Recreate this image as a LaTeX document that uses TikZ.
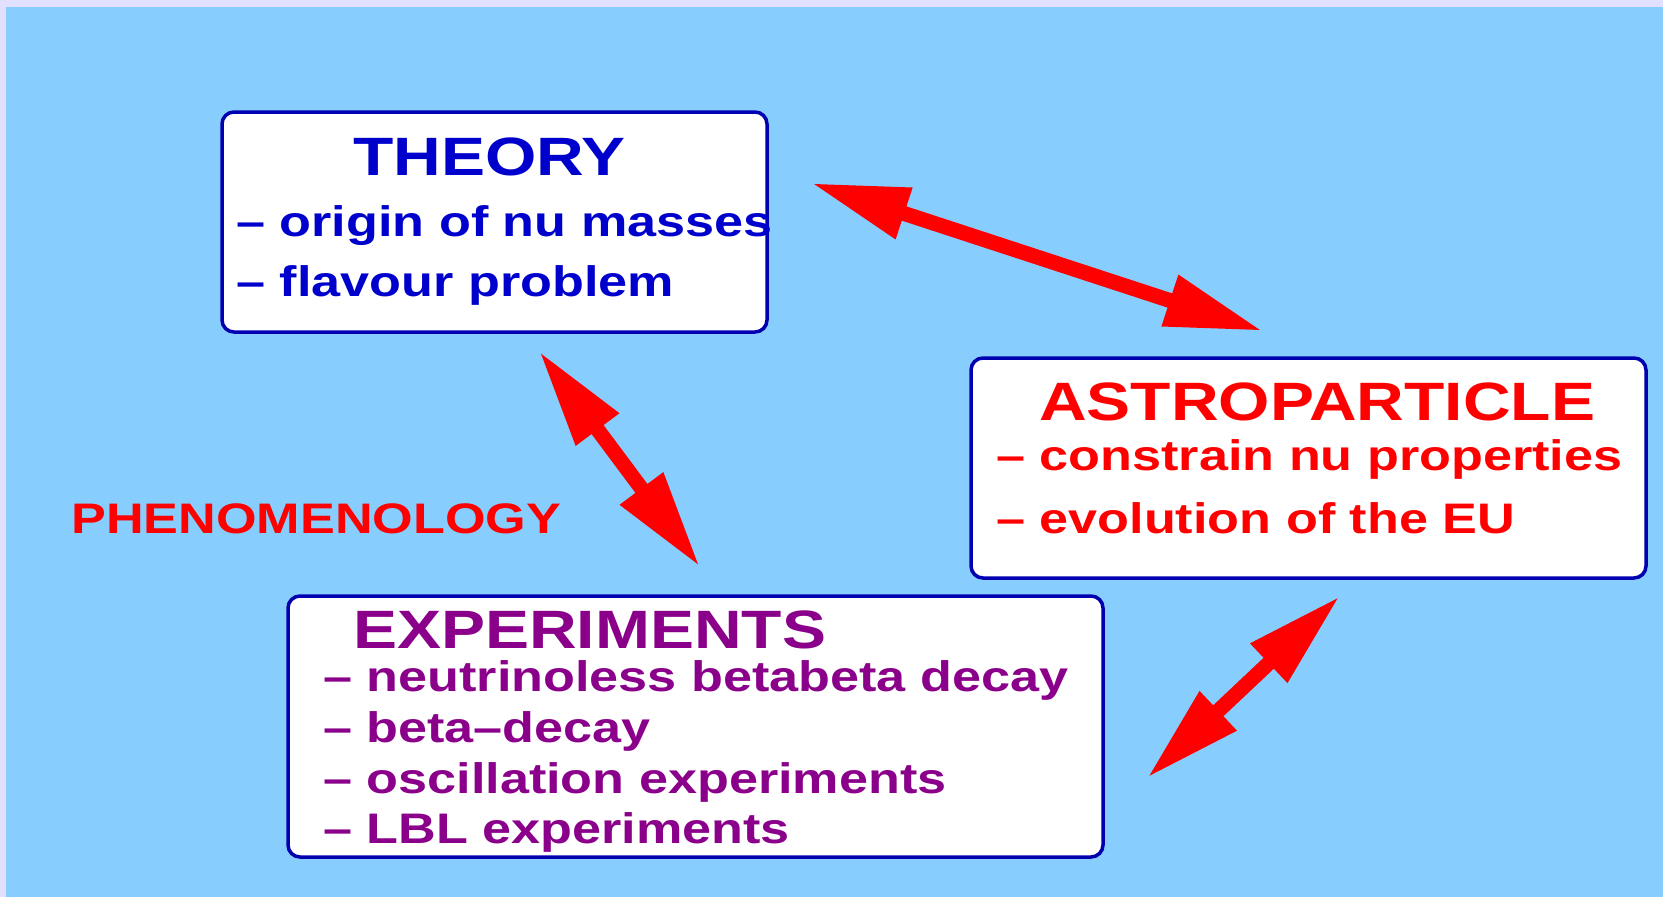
\documentclass[tikz,border=0pt]{standalone}
\usepackage{fontspec}
\setmainfont{Liberation Sans}[FakeStretch=1.222]
\usetikzlibrary{arrows.meta}

\definecolor{skyback}{RGB}{135,206,255}
\definecolor{lavframe}{RGB}{226,224,255}
\definecolor{boxblue}{RGB}{0,0,176}
\definecolor{theoblue}{RGB}{0,0,204}
\definecolor{expviolet}{RGB}{139,0,139}
\definecolor{arrowred}{RGB}{255,0,0}

\tikzset{
  topicbox/.style={draw=boxblue, line width=3.5pt, rounded corners=12pt, fill=white, inner sep=0pt},
  headline/.style={anchor=base west, inner sep=0pt, font=\bfseries\fontsize{54}{60}\selectfont},
  itemline/.style={anchor=base west, inner sep=0pt, font=\bfseries\fontsize{42.7}{50}\selectfont},
  bigarrow/.style={draw=arrowred, line width=15pt,
    {Triangle[length=98pt,width=50pt]}-{Triangle[length=98pt,width=50pt]}}
}

\begin{document}
\begin{tikzpicture}[x=1pt, y=-1pt]

        % ==========================================
        % 0. SFONDO
        % ==========================================
        \fill[lavframe] (0,0) rectangle (1663,897);
        \fill[skyback] (6,7) rectangle (1663,897);

        % ==========================================
        % 1. BLOCCO THEORY
        % ==========================================
        \node[topicbox, minimum width=545pt, minimum height=220pt] (theory) at (494.5,222) {};
        \node[headline, text=theoblue] (theoryhead) at (353,175) {THEORY};
        \node[itemline, text=theoblue] (theoryone) at (236,236) {-- origin of nu masses};
        \node[itemline, text=theoblue] (theorytwo) at (236,296.5) {-- flavour problem};

        % ==========================================
        % 2. BLOCCO ASTROPARTICLE
        % ==========================================
        \node[topicbox, minimum width=675pt, minimum height=220pt] (astro) at (1308.5,468) {};
        \node[headline, text=arrowred] (astrohead) at (1039,420) {ASTROPARTICLE};
        \node[itemline, text=arrowred] (astroone) at (996,470) {-- constrain nu properties};
        \node[itemline, text=arrowred] (astrotwo) at (996,533) {-- evolution of the EU};

        % ==========================================
        % 3. BLOCCO EXPERIMENTS
        % ==========================================
        \node[topicbox, minimum width=815pt, minimum height=261pt] (exper) at (695.5,726.5) {};
        \node[headline, text=expviolet] (experhead) at (353,648) {EXPERIMENTS};
        \node[itemline, text=expviolet] (experone) at (323,691.5) {-- neutrinoless betabeta decay};
        \node[itemline, text=expviolet] (expertwo) at (323,742) {-- beta--decay};
        \node[itemline, text=expviolet] (experthree) at (323,793) {-- oscillation experiments};
        \node[itemline, text=expviolet] (experfour) at (323,843.5) {-- LBL experiments};

        % Etichetta a sinistra
        \node[itemline, text=arrowred] (pheno) at (71,533) {PHENOMENOLOGY};

        % ==========================================
        % 4. FRECCE DOPPIE
        % ==========================================
        \coordinate (thastro) at (811,183);
        \coordinate (astroth) at (1263,331);
        \coordinate (thexp) at (539,351);
        \coordinate (expth) at (700,567);
        \coordinate (astroexp) at (1340,596);
        \coordinate (expastro) at (1147,778);

        \draw[bigarrow] (thastro) -- (astroth);
        \draw[bigarrow] (thexp) -- (expth);
        \draw[bigarrow] (astroexp) -- (expastro);

\end{tikzpicture}
\end{document}
